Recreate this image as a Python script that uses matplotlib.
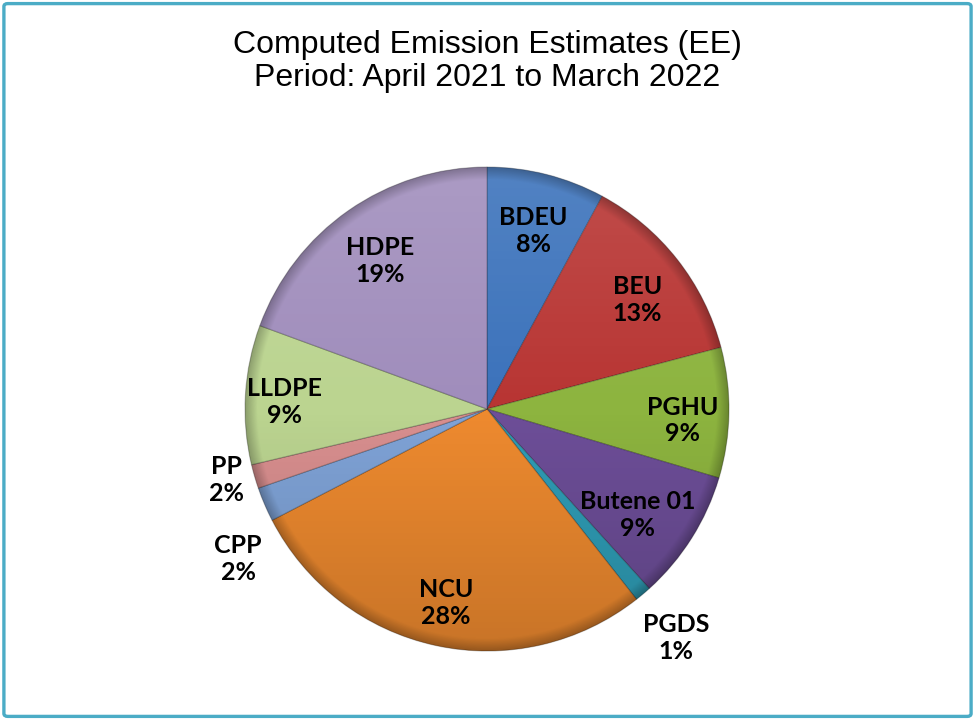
import numpy as np
import matplotlib.pyplot as plt
from matplotlib.patches import Circle, FancyBboxPatch
from matplotlib.transforms import offset_copy

# Unit-wise share of computed emissions (percent)
units = ['BDEU', 'BEU', 'PGHU', 'Butene 01', 'PGDS', 'NCU', 'CPP', 'PP', 'LLDPE', 'HDPE']
shares = [7.9, 13.0, 8.7, 8.7, 1.1, 28.0, 2.3, 1.6, 9.3, 19.4]

colors = ['#3B72BB', '#B83533', '#8DB43F', '#6D4E98', '#2F9DB6',
          '#EE8A2F', '#7FA3D7', '#D98F8F', '#BBD490', '#A08DBC']

# label placement: distance from centre (radius units) and angle tweak (deg, ccw)
label_dist = [0.78, 0.78, 0.81, 0.75, 1.21, 0.80, 1.19, 1.11, 0.84, 0.77]
label_turn = [0, -1, -1, -1.5, 0, 0, 7, -2, 0, 0]

fig = plt.figure(figsize=(9.75, 7.2), dpi=100)

# light blue chart frame
frame = FancyBboxPatch((0.004, 0.005), 0.992, 0.99, boxstyle='round,pad=0,rounding_size=0.004',
                       transform=fig.transFigure, facecolor='none', edgecolor='#4BACC6',
                       linewidth=2.4, zorder=10)
fig.patches.append(frame)

fig.text(0.5, 1 - 45 / 720, 'Computed Emission Estimates (EE)',
         ha='center', va='center', fontsize=23, family='Liberation Sans')
fig.text(0.5, 1 - 78 / 720, 'Period: April 2021 to March 2022',
         ha='center', va='center', fontsize=23, family='Liberation Sans')

ax = fig.add_axes([0.2513, 0.0958, 0.4964, 0.6722])
wedges, _ = ax.pie(shares, colors=colors, startangle=90, counterclock=False, radius=1,
                   wedgeprops=dict(edgecolor=(0, 0, 0, 0.25), linewidth=0.8))

# soft shading on top of the pie (lighter top, darker bottom, dark rim)
n = 400
xx, yy = np.meshgrid(np.linspace(-1, 1, n), np.linspace(1, -1, n))
rr = np.sqrt(xx ** 2 + yy ** 2)
top = np.clip(yy, 0, 1) * 0.12
bot = np.clip(-yy, 0, 1) * 0.16
rim = np.clip((rr - 0.95) / 0.05, 0, 1) * 0.25
base_a = top + bot
base_rgb = np.where(top[..., None] > 0, 1.0, 0.0) * np.ones((n, n, 3))
alpha = base_a + rim * (1 - base_a)
shade = np.zeros((n, n, 4))
shade[..., :3] = base_rgb * base_a[..., None] * (1 - rim[..., None]) / np.maximum(alpha[..., None], 1e-6)
shade[..., 3] = alpha
img = ax.imshow(shade, extent=(-1, 1, -1, 1), zorder=3, interpolation='bilinear')
img.set_clip_path(Circle((0, 0), 1, transform=ax.transData))

# data labels: name + rounded percent (nudged a few pixels down)
lbl_tr = offset_copy(ax.transData, fig=fig, x=0, y=-5, units='dots')
for w, name, v, d, t in zip(wedges, units, shares, label_dist, label_turn):
    ang = np.deg2rad((w.theta1 + w.theta2) / 2 + t)
    ax.text(d * np.cos(ang), d * np.sin(ang), f'{name}\n{round(v):.0f}%',
            ha='center', va='center', fontsize=18, fontweight='bold',
            family='Lato', linespacing=1.2, zorder=5, transform=lbl_tr)

ax.set_xlim(-1, 1)
ax.set_ylim(-1, 1)
ax.set_aspect('equal')
ax.axis('off')

fig.savefig('out.png', dpi=100)
